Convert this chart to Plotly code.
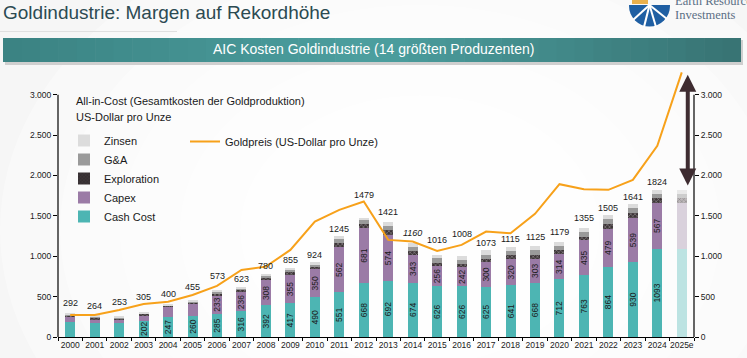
import plotly.graph_objects as go

# ---------------- data ----------------
years = ["2000", "2001", "2002", "2003", "2004", "2005", "2006", "2007", "2008", "2009",
         "2010", "2011", "2012", "2013", "2014", "2015", "2016", "2017", "2018", "2019",
         "2020", "2021", "2022", "2023", "2024", "2025e"]
cash_cost = [190, 177, 170, 202, 247, 260, 285, 316, 392, 417, 490, 551, 668, 692, 674,
             626, 626, 625, 641, 668, 712, 763, 864, 930, 1093, 1093]
capex = [60, 42, 41, 70, 128, 157, 233, 236, 308, 355, 350, 562, 681, 574, 343,
         256, 242, 300, 320, 303, 314, 435, 479, 539, 567, 567]
exploration = [17, 18, 16, 13, 10, 15, 20, 25, 30, 30, 30, 55, 55, 55, 45,
               40, 35, 45, 50, 45, 45, 45, 55, 60, 60, 60]
g_and_a = [15, 17, 16, 12, 8, 13, 20, 26, 28, 30, 32, 45, 45, 55, 50,
           50, 50, 50, 55, 55, 58, 60, 60, 62, 55, 55]
zinsen = [10, 10, 10, 8, 7, 10, 15, 20, 22, 23, 22, 32, 30, 45, 48,
          44, 55, 53, 49, 54, 50, 52, 47, 50, 49, 49]
total_labels = ["292", "264", "253", "305", "400", "455", "573", "623", "780", "855",
                "924", "1245", "1479", "1421", "<i>1160</i>", "1016", "1008", "1073", "1115", "1125",
                "1179", "1355", "1505", "1641", "1824", ""]
gold_price = [273, 273, 335, 409, 437, 520, 632, 830, 871, 1078, 1429, 1574, 1677, 1202, 1181,
              1066, 1140, 1305, 1285, 1524, 1892, 1830, 1822, 1945, 2367, 3275]
y_ticks = [0, 500, 1000, 1500, 2000, 2500, 3000]

# ---------------- geometry helpers (figure pixels -> paper) ----------------
W, H = 747, 358
ML, MR, MT, MB = 58, 53, 70, 21
PW, PH = W - ML - MR, H - MT - MB
YMAX = 3305


def px(xp):
    return (xp - ML) / PW


def py(yp):
    return (H - MB - yp) / PH


FONT = "Liberation Sans, Arial, sans-serif"
n = len(years)
est = n - 1  # estimated year index (faded)


def cols(normal, faded):
    return [normal] * est + [faded]


fig = go.Figure()

cash_text = [str(v) if 3 <= i < est else "" for i, v in enumerate(cash_cost)]
capex_text = [str(v) if 6 <= i < est else "" for i, v in enumerate(capex)]

fig.add_bar(x=years, y=cash_cost, name="Cash Cost",
            marker=dict(color=cols("#4db5b3", "#bce3e2"), line=dict(width=0)),
            text=cash_text, textposition="inside", textangle=-90, insidetextanchor="middle",
            textfont=dict(size=8.5, color="#1a1a1a", family=FONT), hoverinfo="skip")
fig.add_bar(x=years, y=capex, name="Capex",
            marker=dict(color=cols("#9b7ba6", "#d9d1dc"), line=dict(width=0)),
            text=capex_text, textposition="inside", textangle=-90, insidetextanchor="middle",
            textfont=dict(size=8.5, color="#1a1a1a", family=FONT), hoverinfo="skip")
fig.add_bar(x=years, y=exploration, name="Exploration",
            marker=dict(color=cols("#3d3538", "#bdb8ba"), line=dict(width=0),
                        pattern=dict(shape="x", size=3, solidity=0.3,
                                     fgcolor=cols("#1a1a1a", "#a8a8a8"))),
            hoverinfo="skip")
fig.add_bar(x=years, y=g_and_a, name="G&A",
            marker=dict(color=cols("#9a9a9a", "#cdcdcd"), line=dict(width=0)), hoverinfo="skip")
fig.add_bar(x=years, y=zinsen, name="Zinsen",
            marker=dict(color=cols("#dcdcdc", "#e9e9e9"), line=dict(width=0)), hoverinfo="skip")

fig.add_scatter(x=years, y=gold_price, mode="lines", name="Goldpreis (US-Dollar pro Unze)",
                line=dict(color="#f7a11a", width=2), legend="legend2", hoverinfo="skip")

# invisible trace for right axis
fig.add_scatter(x=years, y=gold_price, mode="lines", yaxis="y2", showlegend=False,
                line=dict(width=0), opacity=0, hoverinfo="skip")

totals = [c + p + e + g + z for c, p, e, g, z in zip(cash_cost, capex, exploration, g_and_a, zinsen)]

# label lift (pixels) for totals, exceptions only
LIFT = {"2000": 3, "2001": 3, "2002": 8, "2003": 8, "2004": 4, "2005": 6, "2006": 8,
        "2012": 16, "2013": 3, "2014": 3, "2015": 8, "2016": 15, "2019": 2, "2020": 3,
        "2021": 3}

annotations = []
for i, (yr, t, lab) in enumerate(zip(years, totals, total_labels)):
    if not lab:
        continue
    annotations.append(dict(x=i, y=t, xref="x", yref="y", text=lab, showarrow=False,
                            yanchor="bottom", yshift=LIFT.get(yr, 0.5),
                            font=dict(size=9, color="#1a1a1a", family=FONT)))

# margin arrow for the estimate year
annotations.append(dict(x=est, y=totals[-1] + 50, xref="x", yref="y",
                        ax=est, ay=gold_price[-1] - 10, axref="x", ayref="y",
                        text="", showarrow=True, arrowhead=2, startarrowhead=2,
                        arrowside="end+start", arrowwidth=4, arrowsize=0.85, startarrowsize=0.85,
                        arrowcolor="#3e2c31", xshift=6))

# legend header
annotations.append(dict(x=px(74), y=py(101), xref="paper", yref="paper", xanchor="left",
                        yanchor="middle", showarrow=False,
                        text="All-in-Cost (Gesamtkosten der Goldproduktion)",
                        font=dict(size=11, color="#1a1a1a", family=FONT)))
annotations.append(dict(x=px(74), y=py(117), xref="paper", yref="paper", xanchor="left",
                        yanchor="middle", showarrow=False, text="US-Dollar pro Unze",
                        font=dict(size=11, color="#1a1a1a", family=FONT)))

# page title
annotations.append(dict(x=px(1), y=py(13), xref="paper", yref="paper", xanchor="left",
                        yanchor="middle", showarrow=False,
                        text="Goldindustrie: Margen auf Rekordhöhe",
                        font=dict(size=19, color="#2c4a52", family=FONT)))
# banner text
annotations.append(dict(x=px(373), y=py(49.5), xref="paper", yref="paper", xanchor="center",
                        yanchor="middle", showarrow=False,
                        text="AIC Kosten Goldindustrie (14 größten Produzenten)",
                        font=dict(size=14, color="#ffffff", family=FONT)))
# logo text
SERIF = "Liberation Serif, Times New Roman, serif"
annotations.append(dict(x=px(673), y=py(15), xref="paper", yref="paper", xanchor="left",
                        yanchor="middle", showarrow=False, text="Investments",
                        font=dict(size=12.5, color="#5b6f85", family=SERIF)))
annotations.append(dict(x=px(673), y=py(1), xref="paper", yref="paper", xanchor="left",
                        yanchor="middle", showarrow=False, text="Earth Resource",
                        font=dict(size=12.5, color="#5b6f85", family=SERIF)))

shapes = []
# soft radial background
for i, r in enumerate([420, 360, 300, 240, 180]):
    cx, cy = 420, 230
    shapes.append(dict(type="circle", xref="paper", yref="paper", layer="below",
                       x0=px(cx - r), x1=px(cx + r), y0=py(cy + r * 0.75), y1=py(cy - r * 0.75),
                       fillcolor="#ffffff", opacity=0.35, line=dict(width=0)))

# title underline
shapes.append(dict(type="line", xref="paper", yref="paper", x0=px(0), x1=px(177),
                   y0=py(31.5), y1=py(31.5), line=dict(color="#e0e0e0", width=1)))

# banner shadow + gradient
shapes.append(dict(type="rect", xref="paper", yref="paper", x0=px(5), x1=px(743),
                   y0=py(65), y1=py(40), fillcolor="#cfcfcf", line=dict(width=0)))


def lerp(c1, c2, t):
    a = [int(c1[i:i + 2], 16) for i in (1, 3, 5)]
    b = [int(c2[i:i + 2], 16) for i in (1, 3, 5)]
    return "#" + "".join(f"{round(a[k] + (b[k] - a[k]) * t):02x}" for k in range(3))


x0b, x1b = 3, 741
steps = 40
for s in range(steps):
    t = s / (steps - 1)
    if t < 0.5:
        c = lerp("#3b8383", "#4c9f9f", t / 0.5)
    else:
        c = lerp("#4c9f9f", "#387474", (t - 0.5) / 0.5)
    xa = x0b + (x1b - x0b) * s / steps
    xb = x0b + (x1b - x0b) * (s + 1) / steps + 0.6
    shapes.append(dict(type="rect", xref="paper", yref="paper", x0=px(xa), x1=px(min(xb, x1b)),
                       y0=py(62), y1=py(38), fillcolor=c, line=dict(width=0)))

# logo
shapes.append(dict(type="circle", xref="paper", yref="paper", x0=px(629), x1=px(670),
                   y0=py(26.5), y1=py(-14.5), fillcolor="#1f5fa3", line=dict(width=0)))
shapes.append(dict(type="rect", xref="paper", yref="paper", x0=px(627), x1=px(672),
                   y0=py(5), y1=py(-20), fillcolor="#f9f9f9", line=dict(width=0)))
shapes.append(dict(type="rect", xref="paper", yref="paper", x0=px(632), x1=px(648),
                   y0=py(4), y1=py(-5), fillcolor="#e9b04c", line=dict(width=0)))
for ex, ey in [(633, 20), (644, 27), (656, 27), (667, 19)]:
    shapes.append(dict(type="line", xref="paper", yref="paper", x0=px(649.5), y0=py(5),
                       x1=px(ex), y1=py(ey), line=dict(color="#ffffff", width=2)))

# axis lines (only up to 3000)
shapes.append(dict(type="line", xref="paper", yref="y", x0=0, x1=0, y0=0, y1=3000,
                   line=dict(color="#000000", width=1.2)))
shapes.append(dict(type="line", xref="paper", yref="y", x0=1, x1=1, y0=0, y1=3000,
                   line=dict(color="#000000", width=1.2)))

tick_text = [f"{v:,}".replace(",", ".") for v in y_ticks]

fig.update_layout(
    width=W, height=H,
    margin=dict(l=ML, r=MR, t=MT, b=MB, pad=0, autoexpand=False),
    paper_bgcolor="#f6f6f6",
    plot_bgcolor="rgba(0,0,0,0)",
    barmode="stack", bargap=0.59,
    font=dict(family=FONT, color="#1a1a1a"),
    uniformtext=dict(minsize=8.5, mode="show"),
    xaxis=dict(type="category", range=[-0.5, n - 0.5], showgrid=False, showline=True,
               linecolor="#000000", linewidth=1.2, tickangle=0, automargin=False,
               ticks="outside", tickson="boundaries", ticklen=3, tickcolor="#000000",
               tickfont=dict(size=8.5, color="#1a1a1a"), zeroline=False, fixedrange=True),
    yaxis=dict(range=[0, YMAX], showgrid=False, zeroline=False, showline=False, automargin=False,
               tickvals=y_ticks, ticktext=tick_text, ticks="outside", ticklen=4,
               tickcolor="#000000", tickfont=dict(size=8.5, color="#1a1a1a")),
    yaxis2=dict(range=[0, YMAX], overlaying="y", side="right", showgrid=False, zeroline=False,
                showline=False, automargin=False, tickvals=y_ticks, ticktext=tick_text,
                ticks="outside", ticklen=4,
                tickcolor="#000000", tickfont=dict(size=8.5, color="#1a1a1a")),
    legend=dict(x=px(64), y=py(126), xanchor="left", yanchor="top", bgcolor="rgba(0,0,0,0)",
                traceorder="reversed", font=dict(size=11, color="#1a1a1a"),
                tracegroupgap=0),
    legend2=dict(x=px(185), y=py(127), xanchor="left", yanchor="top", bgcolor="rgba(0,0,0,0)",
                 font=dict(size=11, color="#1a1a1a")),
    showlegend=True,
    annotations=annotations,
    shapes=shapes,
)

fig.write_html("out.html", config={"displayModeBar": False},
               post_script="document.body.style.margin='0';document.body.style.overflow='hidden';")
